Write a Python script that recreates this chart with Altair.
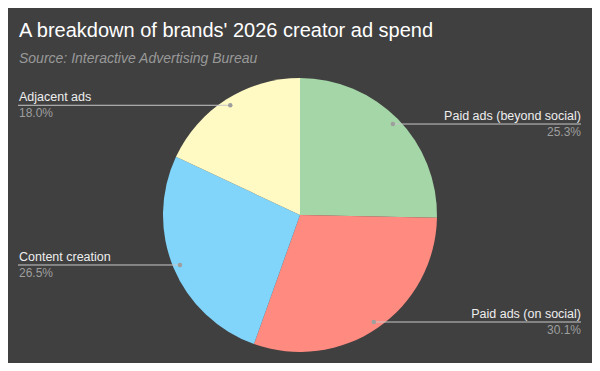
import math
import altair as alt
import pandas as pd

# ---- data ----
categories = ["Paid ads (beyond social)", "Paid ads (on social)", "Content creation", "Adjacent ads"]
shares = [25.3, 30.1, 26.5, 18.0]
colors = ["#a5d6a7", "#ff8a80", "#81d4fa", "#fff9c4"]

TITLE = "A breakdown of brands' 2026 creator ad spend"
SUBTITLE = "Source: Interactive Advertising Bureau"

# ---- layout (pixels inside the chart) ----
W, H = 584, 355
CX, CY, R = 292, 207, 137
DOT_R = 130
LEFT_X, RIGHT_X = 10, 573
FONT = "Liberation Sans"

total = sum(shares)
rows = []
cum = 0.0
for i, (c, v) in enumerate(zip(categories, shares)):
    mid = (cum + v / 2) / total * 2 * math.pi
    cum += v
    left = math.sin(mid) < 0
    rows.append(dict(
        order=i, category=c, share=v, pct=f"{v:.1f}%",
        dot_x=CX + DOT_R * math.sin(mid), dot_y=CY - DOT_R * math.cos(mid),
        edge_x=LEFT_X if left else RIGHT_X, side="left" if left else "right",
    ))
df = pd.DataFrame(rows)

base = alt.Chart(df)

pie = base.mark_arc(outerRadius=R).encode(
    theta=alt.Theta("share:Q", stack=True),
    color=alt.Color("category:N", scale=alt.Scale(domain=categories, range=colors), legend=None),
    order=alt.Order("order:Q"),
    x=alt.value(CX),
    y=alt.value(CY),
)

px = lambda f: alt.X(f, scale=None, axis=None)
py = lambda f: alt.Y(f, scale=None, axis=None)

leaders = base.mark_rule(color="#c8c8c8", strokeWidth=1).encode(
    x=px("dot_x:Q"), x2="edge_x:Q", y=py("dot_y:Q")
)
dots = base.mark_circle(size=20, color="#9e9e9e", opacity=1).encode(
    x=px("dot_x:Q"), y=py("dot_y:Q")
)

def labels(side, align, dx):
    b = base.transform_filter(alt.datum.side == side)
    name = b.mark_text(align=align, baseline="alphabetic", dx=dx, dy=-4, fontSize=12.5,
                       font=FONT, color="#eeeeee").encode(
        x=px("edge_x:Q"), y=py("dot_y:Q"), text="category:N")
    pct = b.mark_text(align=align, baseline="alphabetic", dx=dx, dy=12, fontSize=12,
                      font=FONT, color="#9e9e9e").encode(
        x=px("edge_x:Q"), y=py("dot_y:Q"), text="pct:N")
    return name + pct

title_df = pd.DataFrame({"t": [TITLE], "s": [SUBTITLE]})
title = alt.Chart(title_df).mark_text(align="left", baseline="alphabetic", fontSize=20,
                                      font=FONT, color="#ffffff").encode(
    text="t:N", x=alt.value(11), y=alt.value(29))
subtitle = alt.Chart(title_df).mark_text(align="left", baseline="alphabetic", fontSize=14,
                                         font=FONT, fontStyle="italic", color="#999999").encode(
    text="s:N", x=alt.value(11), y=alt.value(55))

chart = alt.layer(
    pie, leaders, dots, labels("left", "left", 1), labels("right", "right", 0), title, subtitle
).properties(
    width=W, height=H, background="#404040", padding=0,
    autosize=alt.AutoSizeParams(type="none"),
).configure_view(stroke=None)

chart.save("out.html", embed_options={"renderer": "svg", "actions": False})
